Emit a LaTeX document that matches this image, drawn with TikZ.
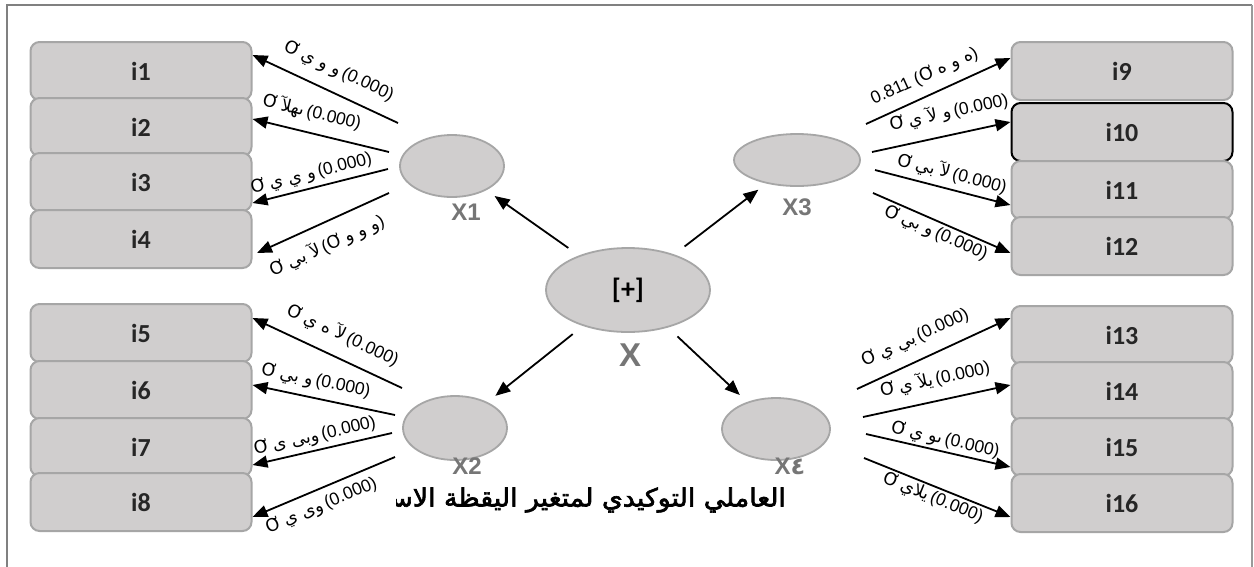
\documentclass[tikz,border=0pt]{standalone}
\usepackage{fontspec}
\setmainfont{Liberation Sans}
\newfontfamily\boxfont{Carlito}
\newfontfamily\arab[Script=Arabic]{DejaVu Sans}
\newfontfamily\arabheavy[Script=Arabic, FakeBold=2.5]{DejaVu Sans}
\usetikzlibrary{shapes.geometric,arrows.meta}
\TeXXeTstate=1
\definecolor{boxfill}{RGB}{208,206,206}
\definecolor{boxline}{RGB}{166,166,166}
\definecolor{latent}{RGB}{118,118,118}
\definecolor{framegray}{RGB}{128,128,128}
% loading label: symbol, Arabic fragment, estimate
\newcommand\lp[1]{{\arab Ơ\,\beginR #1\endR}\,(0.000)}
\begin{document}
\begin{tikzpicture}[x=1pt,y=-1pt,
  item/.style={draw=boxline, fill=boxfill, line width=2pt, rounded corners=9pt,
    minimum width=221pt, minimum height=58pt, inner sep=0pt, text=black!85,
    font=\boxfont\bfseries\fontsize{26}{26}\selectfont},
  factor/.style={ellipse, draw=boxline, fill=boxfill, line width=1.8pt, inner sep=0pt},
  tag/.style={text=latent, inner sep=0pt, font=\bfseries\fontsize{24}{24}\selectfont},
  load/.style={line width=1.8pt, -{Triangle[length=15pt,width=12pt]}},
  lab/.style={sloped, inner sep=0pt, font=\fontsize{17.5}{17.5}\selectfont}]
\useasboundingbox (0,0) rectangle (1254,566);
\fill[white] (0,0) rectangle (1254,566);
% outer frame
\draw[framegray, line width=2.5pt] (7,570) -- (7,5) -- (1252,5);
\draw[framegray!80, line width=1.2pt] (1252,5) -- (1252,570);

% indicator boxes
\node[item] (i1) at (141,71) {i1};
\node[item] (i2) at (141,127) {i2};
\node[item] (i3) at (141,182) {i3};
\node[item] (i4) at (141,239) {i4};
\node[item] (i5) at (141,333) {i5};
\node[item] (i6) at (141,390) {i6};
\node[item] (i7) at (141,447) {i7};
\node[item] (i8) at (141,502) {i8};
\node[item] (i9) at (1122,71) {i9};
\node[item, draw=black] (i10) at (1122,132) {i10};
\node[item] (i11) at (1122,190) {i11};
\node[item] (i12) at (1122,246) {i12};
\node[item] (i13) at (1122,335) {i13};
\node[item] (i14) at (1122,391) {i14};
\node[item] (i15) at (1122,447) {i15};
\node[item] (i16) at (1122,503) {i16};

% latent factors
\node[factor, minimum width=164pt, minimum height=84pt,
  font=\boxfont\bfseries\fontsize{28}{28}\selectfont] (X) at (628,290) {[+]};
\node[factor, minimum width=104pt, minimum height=62pt] (x1) at (452,166) {};
\node[factor, minimum width=126pt, minimum height=52pt] (x3) at (797,160) {};
\node[factor, minimum width=104pt, minimum height=64pt] (x2) at (455,428) {};
\node[factor, minimum width=108pt, minimum height=62pt] (x4) at (776,429) {};

\node[tag] (t1) at (466,212) {X1};
\node[tag] (t3) at (797,207) {X3};
\node[tag] (t2) at (467,466) {X2};
\node[tag] (t4) at (790,466) {X{\arab ٤}};
\node[tag, font=\bfseries\fontsize{33}{33}\selectfont] (t0) at (630,355) {X};

% second-order paths
\draw[load, shorten <=13pt, shorten >=10pt] (X) -- (x1);
\draw[load, shorten <=13pt, shorten >=10pt] (X) -- (x3);
\draw[load, shorten <=13pt, shorten >=10pt] (X) -- (x2);
\draw[load, shorten <=13pt, shorten >=10pt] (X) -- (x4);

% first factor
\coordinate (a1) at (398,123);
\coordinate (a2) at (389,152);
\coordinate (a3) at (388,169);
\coordinate (a4) at (389,193);
\draw[load] (a1) -- (i1.east |- 0,55) node[lab, pos=.47, above=12pt] {\lp{و و ي}};
\draw[load] (a2) -- (i2.east |- 0,119) node[lab, pos=.6, above=10pt] {\lp{ىهلآ}};
\draw[load] (a3) -- (i3.east |- 0,203) node[lab, pos=.54, above=4pt] {\lp{و ي ي}};
\draw[load] (a4) -- (257,253) node[lab, pos=.54, below=12pt]
  {{\arab Ơ\,\beginR لآ بي\endR}\,({\arab Ơ\,\beginR و و و\endR})};

% third factor
\coordinate (c1) at (866,124);
\coordinate (c2) at (872,152);
\coordinate (c3) at (875,170);
\coordinate (c4) at (873,193);
\draw[load] (c1) -- (i9.west |- 0,58) node[lab, pos=.46, above=9pt]
  {0.811 ({\arab Ơ\,\beginR ه و ه\endR})};
\draw[load] (c2) -- (i10.west |- 0,122) node[lab, pos=.59, above=12pt] {\lp{و لآ ي}};
\draw[load] (c3) -- (i11.west |- 0,205) node[lab, pos=.54, above=5pt] {\lp{لآ بي}};
\draw[load] (c4) -- (i12.west |- 0,253) node[lab, pos=.49, below=2pt] {\lp{و بي}};

% second factor
\coordinate (b1) at (402,388);
\coordinate (b2) at (395,415);
\coordinate (b3) at (392,433);
\coordinate (b4) at (395,457);
\draw[load] (b1) -- (i5.east |- 0,318) node[lab, pos=.46, above=12pt] {\lp{لآ ه ي}};
\draw[load] (b2) -- (i6.east |- 0,385) node[lab, pos=.58, above=7pt] {\lp{و بي}};
\draw[load] (b3) -- (i7.east |- 0,465) node[lab, pos=.53, above=4pt] {\lp{وبى ى}};
\draw[load] (b4) -- (i8.east |- 0,517) node[lab, pos=.56, below=7pt] {\lp{وى ي}};

% fourth factor
\coordinate (d1) at (857,389);
\coordinate (d2) at (863,417);
\coordinate (d3) at (866,434);
\coordinate (d4) at (864,458);
\draw[load] (d1) -- (i13.west |- 0,318) node[lab, pos=.44, above=12pt] {\lp{بي ي}};
\draw[load] (d2) -- (i14.west |- 0,385) node[lab, pos=.52, above=11pt] {\lp{يلآ ي}};
\draw[load] (d3) -- (i15.west |- 0,467) node[lab, pos=.53, above=2pt] {\lp{ىو ي}};
\draw[load] (d4) -- (i16.west |- 0,517) node[lab, pos=.5, below=2pt] {\lp{يلاي}};

% caption, cut off on its left
\begin{scope}
  \clip (396,478) rectangle (790,525);
  \node[anchor=east, inner sep=0pt] (cap) at (786,500)
    {\scalebox{1.07}[1]{\arabheavy\fontsize{25}{25}\selectfont\beginR العاملي التوكيدي لمتغير اليقظة الاستراتيجية\endR}};
\end{scope}
\end{tikzpicture}
\end{document}
